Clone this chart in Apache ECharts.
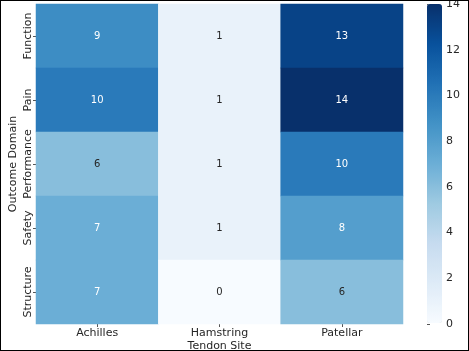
<!DOCTYPE html>
<html>
<head>
<meta charset="utf-8">
<script src="https://cdn.jsdelivr.net/npm/echarts@6/dist/echarts.min.js"></script>
<style>
  html, body { margin: 0; padding: 0; background: #fff; }
  #chart { width: 469px; height: 351px; box-sizing: border-box; border: 1.5px solid #000; }
</style>
</head>
<body>
<div id="chart"></div>
<script>
// tendon sites (columns) and outcome domains (rows)
const sites = ['Achilles', 'Hamstring', 'Patellar'];
const domains = ['Function', 'Pain', 'Performance', 'Safety', 'Structure'];
// counts per site, in domain order
const achilles = [9, 10, 6, 7, 7];
const hamstring = [1, 1, 1, 1, 0];
const patellar = [13, 14, 10, 8, 6];
const colorTicks = [0, 2, 4, 6, 8, 10, 12, 14];

const blues = ['#f7fbff', '#deebf7', '#c6dbef', '#9ecae1', '#6baed6',
  '#4292c6', '#2171b5', '#08519c', '#08306b'];

const cols = [achilles, hamstring, patellar];
let cells = [];
cols.forEach(function (vals, x) {
  vals.forEach(function (v, y) {
    cells.push({
      value: [x, y, v],
      label: { color: v <= 6 ? '#262626' : '#ffffff' }
    });
  });
});

const chart = echarts.init(document.getElementById('chart'));
const font = 'DejaVu Sans';
const option = {
  animation: false,
  textStyle: { fontFamily: font },
  grid: [
    { left: 35, right: 65, top: 3, bottom: 26, outerBoundsMode: 'none' },
    { left: 426, width: 15, top: 3, bottom: 26, outerBoundsMode: 'none' }
  ],
  xAxis: [
    {
      type: 'category', data: sites, gridIndex: 0,
      name: 'Tendon Site', nameLocation: 'middle', nameGap: 17, nameMoveOverlap: false,
      nameTextStyle: { fontSize: 11, color: '#262626' },
      axisLine: { show: false },
      axisTick: { show: true, alignWithLabel: true, length: 3, lineStyle: { color: '#555' } },
      axisLabel: { fontSize: 11, color: '#262626', margin: 4, interval: 0 },
      splitLine: { show: false }
    },
    { type: 'value', gridIndex: 1, show: false, min: 0, max: 1 }
  ],
  yAxis: [
    {
      type: 'category', data: domains, gridIndex: 0, inverse: true,
      name: 'Outcome Domain', nameLocation: 'middle', nameGap: 17, nameMoveOverlap: false,
      nameTextStyle: { fontSize: 11, color: '#262626' },
      axisLine: { show: false },
      axisTick: { show: true, alignWithLabel: true, length: 3, lineStyle: { color: '#555' } },
      axisLabel: { fontSize: 11, color: '#262626', rotate: 90, margin: 2, interval: 0 },
      splitLine: { show: false }
    },
    {
      type: 'value', gridIndex: 1, position: 'right', min: 0, max: 14, interval: 2,
      axisLine: { show: false },
      axisTick: { show: true, length: 3, lineStyle: { color: '#555' } },
      axisLabel: { fontSize: 11, color: '#262626', margin: 4,
        formatter: function (v) { return colorTicks.indexOf(v) >= 0 ? String(v) : ''; } },
      splitLine: { show: false }
    }
  ],
  visualMap: {
    type: 'continuous', min: 0, max: 14, seriesIndex: 0,
    calculable: false, text: null, showLabel: false,
    orient: 'vertical', left: 426, top: 3, padding: 0,
    itemWidth: 15, itemHeight: 319,
    inRange: { color: blues }
  },
  series: [{
    type: 'heatmap', xAxisIndex: 0, yAxisIndex: 0,
    data: cells,
    label: { show: true, fontSize: 10, fontFamily: font },
    itemStyle: { borderWidth: 0 },
    emphasis: { disabled: true }
  }]
};
chart.setOption(option);
</script>
</body>
</html>
